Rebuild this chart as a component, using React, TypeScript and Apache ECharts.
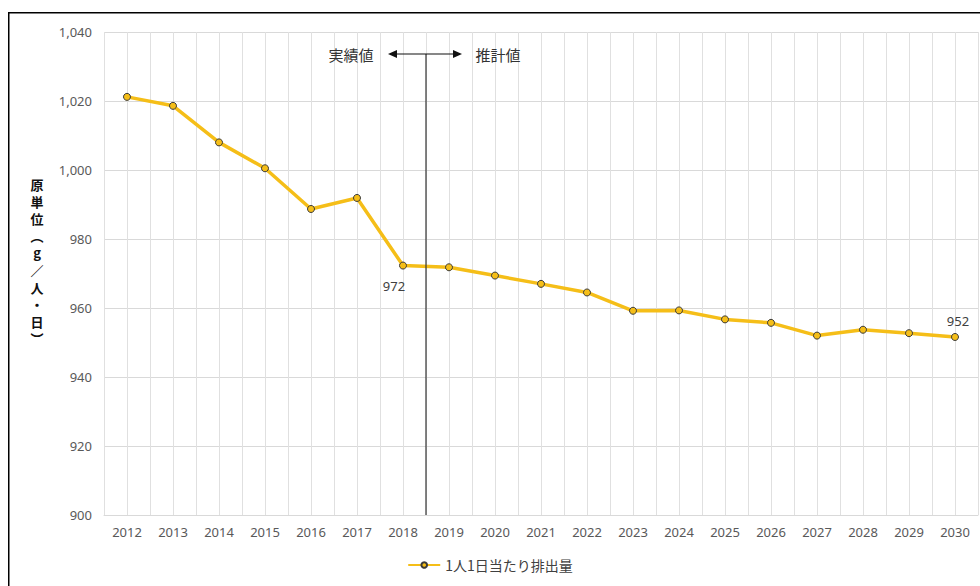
import React, { useEffect, useRef } from "react";
import * as echarts from "echarts";

const years = ["2012","2013","2014","2015","2016","2017","2018","2019","2020","2021","2022","2023","2024","2025","2026","2027","2028","2029","2030"];
const perCapita = [1021.2, 1018.6, 1008.0, 1000.5, 988.7, 991.9, 972.3, 971.8, 969.4, 967.0, 964.5, 959.2, 959.3, 956.7, 955.7, 952.0, 953.7, 952.7, 951.6];
const labelBelow = [6];
const labelAbove = [18];
const yTicks = { min: 900, max: 1040, interval: 20 };
const seriesName = "1人1日当たり排出量";
const yTitle = ["原", "単", "位", "︵", "g", "／", "人", "・", "日", "︶"];
const leftText = "実績値";
const rightText = "推計値";
const splitIndex = 6; // boundary between 2018 and 2019

const FONT = "'Noto Sans', 'Noto Sans CJK JP', sans-serif";
const CJK = "'Noto Sans CJK JP', 'Noto Sans', sans-serif";

export default function App() {
  const ref = useRef<HTMLDivElement>(null);
  useEffect(() => {
    document.body.style.margin = "0";
    const chart = echarts.init(ref.current!, undefined, { renderer: "svg" });
    const data = perCapita.map((v, i) => {
      if (labelBelow.includes(i)) {
        return { value: v, label: { show: true, position: "bottom", offset: [-9, 5] } };
      }
      if (labelAbove.includes(i)) {
        return { value: v, label: { show: true, position: "top", offset: [3, 0] } };
      }
      return v;
    });
    const option: any = {
      animation: false,
      grid: { left: 104, right: 2, top: 32, bottom: 71, containLabel: false },
      xAxis: [
        {
          type: "category",
          data: years,
          boundaryGap: true,
          axisLine: { show: true, lineStyle: { color: "#d9d9d9", width: 1 } },
          axisTick: { show: false },
          splitLine: { show: false },
          axisLabel: { color: "#595959", fontSize: 13, fontFamily: FONT, margin: 10, interval: 0 },
        },
        {
          type: "value",
          min: 0,
          max: years.length * 2,
          interval: 1,
          position: "top",
          axisLine: { show: false },
          axisTick: { show: false },
          axisLabel: { show: false },
          splitLine: { show: true, lineStyle: { color: "#e0e0e0", width: 1 } },
        },
      ],
      yAxis: {
        type: "value",
        min: yTicks.min,
        max: yTicks.max,
        interval: yTicks.interval,
        axisLine: { show: false },
        axisTick: { show: false },
        splitLine: { show: true, lineStyle: { color: "#d9d9d9", width: 1 } },
        axisLabel: {
          color: "#595959",
          fontSize: 13,
          fontFamily: FONT,
          margin: 12,
          formatter: (v: number) => v.toLocaleString("en-US"),
        },
      },
      legend: {
        bottom: 9,
        left: "center",
        itemWidth: 32,
        itemHeight: 7,
        itemGap: 10,
        textStyle: { color: "#404040", fontSize: 14, fontFamily: CJK },
        data: [seriesName],
      },
      series: [
        {
          name: seriesName,
          type: "line",
          xAxisIndex: 0,
          data,
          symbol: "circle",
          symbolSize: 7,
          lineStyle: { color: "#F5BE18", width: 3.5 },
          itemStyle: { color: "#F5BE18", borderColor: "#3a3a3a", borderWidth: 1 },
          label: {
            show: false,
            color: "#404040",
            fontSize: 13,
            fontFamily: FONT,
            formatter: (p: any) => String(Math.round(p.value)),
          },
          z: 5,
        },
      ],
    };
    chart.setOption(option);

    const xa = chart.convertToPixel({ xAxisIndex: 0 }, splitIndex) as number;
    const xb = chart.convertToPixel({ xAxisIndex: 0 }, splitIndex + 1) as number;
    const xSplit = (xa + xb) / 2;
    const yBottom = chart.convertToPixel({ yAxisIndex: 0 }, yTicks.min) as number;
    const yArrow = 54;
    const x1 = xSplit - 38;
    const x2 = xSplit + 36;

    const titleTop = 184;
    const titleStep = 17.2;
    const titleTexts = yTitle.map((ch, i) => ({
      type: "text",
      x: 37,
      y: titleTop + i * titleStep,
      style: {
        text: ch,
        fill: "#111",
        fontSize: 13,
        fontWeight: "bold",
        fontFamily: CJK,
        align: "center",
        verticalAlign: "middle",
        lineHeight: 14,
      },
    }));

    chart.setOption({
      graphic: [
        {
          type: "rect",
          shape: { x: 8.75, y: 12.75, width: 1000, height: 600 },
          style: { fill: "none", stroke: "#000", lineWidth: 1.5 },
          silent: true,
        },
        {
          type: "line",
          shape: { x1: xSplit, y1: yArrow, x2: xSplit, y2: yBottom },
          style: { stroke: "#333", lineWidth: 1.2 },
          z: 10,
        },
        {
          type: "line",
          shape: { x1: x1 + 6, y1: yArrow, x2: x2 - 6, y2: yArrow },
          style: { stroke: "#111", lineWidth: 1.2 },
          z: 10,
        },
        {
          type: "polygon",
          shape: { points: [[x1, yArrow], [x1 + 9, yArrow - 4], [x1 + 9, yArrow + 4]] },
          style: { fill: "#111" },
          z: 10,
        },
        {
          type: "polygon",
          shape: { points: [[x2, yArrow], [x2 - 9, yArrow - 4], [x2 - 9, yArrow + 4]] },
          style: { fill: "#111" },
          z: 10,
        },
        {
          type: "text",
          x: x1 - 37,
          y: yArrow,
          style: { text: leftText, fill: "#333", fontSize: 15, fontFamily: CJK, align: "center", verticalAlign: "middle" },
          z: 10,
        },
        {
          type: "text",
          x: x2 + 36,
          y: yArrow,
          style: { text: rightText, fill: "#333", fontSize: 15, fontFamily: CJK, align: "center", verticalAlign: "middle" },
          z: 10,
        },
        ...titleTexts,
      ],
    });

    return () => chart.dispose();
  }, []);
  return <div ref={ref} style={{ width: 980, height: 586 }} />;
}
